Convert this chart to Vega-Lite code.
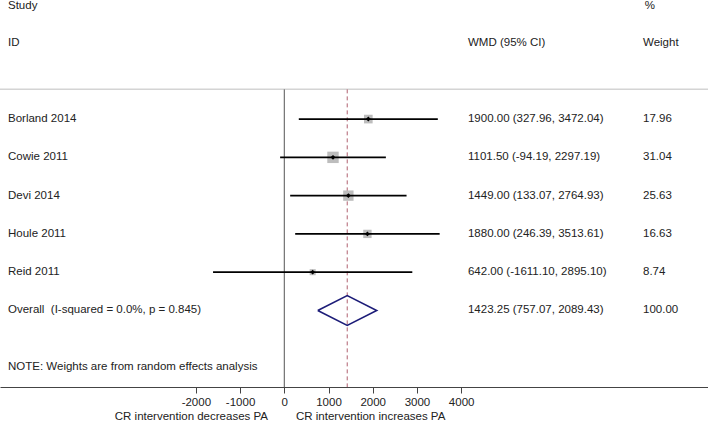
{
  "$schema": "https://vega.github.io/schema/vega-lite/v6.json",
  "width": 708,
  "height": 387,
  "autosize": {"type": "none"},
  "padding": {"left": 0, "right": 0, "top": 0, "bottom": 35},
  "background": "white",
  "config": {
    "font": "Liberation Sans",
    "view": {"stroke": null},
    "text": {"font": "Liberation Sans", "fontSize": 11.5, "color": "#222"},
    "axis": {"labelFont": "Liberation Sans", "grid": false}
  },
  "datasets": {
    "studies": [
      {"study": "Borland 2014", "order": 1, "wmd": 1900.00, "lo": 327.96, "hi": 3472.04, "weight": 17.96, "ci": "1900.00 (327.96, 3472.04)", "wt": "17.96"},
      {"study": "Cowie 2011", "order": 2, "wmd": 1101.50, "lo": -94.19, "hi": 2297.19, "weight": 31.04, "ci": "1101.50 (-94.19, 2297.19)", "wt": "31.04"},
      {"study": "Devi 2014", "order": 3, "wmd": 1449.00, "lo": 133.07, "hi": 2764.93, "weight": 25.63, "ci": "1449.00 (133.07, 2764.93)", "wt": "25.63"},
      {"study": "Houle 2011", "order": 4, "wmd": 1880.00, "lo": 246.39, "hi": 3513.61, "weight": 16.63, "ci": "1880.00 (246.39, 3513.61)", "wt": "16.63"},
      {"study": "Reid 2011", "order": 5, "wmd": 642.00, "lo": -1611.10, "hi": 2895.10, "weight": 8.74, "ci": "642.00 (-1611.10, 2895.10)", "wt": "8.74"},
      {"study": "Overall \u00a0(I-squared = 0.0%, p = 0.845)", "order": 6, "wmd": 1423.25, "lo": 757.07, "hi": 2089.43, "weight": 100, "ci": "1423.25 (757.07, 2089.43)", "wt": "100.00"}
    ],
    "diamond": [
      {"v": 0, "x": 757.07, "y": 6},
      {"v": 1, "x": 1423.25, "y": 5.61},
      {"v": 2, "x": 2089.43, "y": 6},
      {"v": 3, "x": 1423.25, "y": 6.39},
      {"v": 4, "x": 757.07, "y": 6}
    ],
    "overall": [{"wmd": 1423.25}],
    "one": [{}]
  },
  "data": {"name": "studies"},
  "encoding": {
    "x": {
      "type": "quantitative",
      "scale": {"domain": [-6429, 9582], "nice": false, "zero": false},
      "axis": {
        "values": [-2000, -1000, 0, 1000, 2000, 3000, 4000],
        "title": null,
        "domainColor": "#444",
        "tickColor": "#444",
        "tickSize": 6,
        "labelPadding": 3,
        "labelFontSize": 11.5,
        "labelColor": "#222",
        "labelFlush": false,
        "labelExpr": "datum.value < 0 ? '-' + format(-datum.value, 'd') : format(datum.value, 'd')"
      }
    }
  },
  "layer": [
    {
      "data": {"name": "one"},
      "mark": {"type": "rule", "color": "#d4d4d4", "strokeWidth": 1.5},
      "encoding": {
        "x": {"datum": -6429, "type": "quantitative"},
        "x2": {"datum": 9582},
        "y": {"datum": 0.224, "type": "quantitative", "scale": {"domain": [8.0, -2.111], "nice": false, "zero": false}, "axis": null}
      }
    },
    {
      "data": {"name": "one"},
      "mark": {"type": "rule", "color": "#555", "strokeWidth": 1},
      "encoding": {
        "x": {"datum": 0, "type": "quantitative"},
        "y": {"datum": 0.224, "type": "quantitative"},
        "y2": {"datum": 8.0}
      }
    },
    {
      "data": {"name": "overall"},
      "mark": {"type": "rule", "color": "#b06070", "strokeWidth": 1, "strokeDash": [4, 3]},
      "encoding": {
        "x": {"field": "wmd", "type": "quantitative"},
        "y": {"datum": 0.224, "type": "quantitative"},
        "y2": {"datum": 8.0}
      }
    },
    {
      "transform": [{"filter": "datum.order <= 5"}],
      "mark": {"type": "point", "shape": "square", "filled": true, "color": "#bdbdbd", "opacity": 1},
      "encoding": {
        "x": {"field": "wmd", "type": "quantitative"},
        "y": {"field": "order", "type": "quantitative"},
        "size": {"field": "weight", "type": "quantitative", "scale": {"domain": [0, 31.04], "range": [0, 130]}, "legend": null}
      }
    },
    {
      "transform": [{"filter": "datum.order <= 5"}],
      "mark": {"type": "rule", "color": "#000", "strokeWidth": 1.8},
      "encoding": {
        "x": {"field": "lo", "type": "quantitative"},
        "x2": {"field": "hi"},
        "y": {"field": "order", "type": "quantitative"}
      }
    },
    {
      "transform": [{"filter": "datum.order <= 5"}],
      "mark": {"type": "point", "shape": "diamond", "filled": true, "color": "#000", "size": 24, "opacity": 1},
      "encoding": {
        "x": {"field": "wmd", "type": "quantitative"},
        "y": {"field": "order", "type": "quantitative"}
      }
    },
    {
      "data": {"name": "diamond"},
      "mark": {"type": "line", "color": "#1c1c78", "strokeWidth": 1.6},
      "encoding": {
        "x": {"field": "x", "type": "quantitative"},
        "y": {"field": "y", "type": "quantitative"},
        "order": {"field": "v"}
      }
    },
    {
      "mark": {"type": "text", "align": "left", "baseline": "middle"},
      "encoding": {
        "x": {"datum": -6248, "type": "quantitative"},
        "y": {"field": "order", "type": "quantitative"},
        "text": {"field": "study"}
      }
    },
    {
      "mark": {"type": "text", "align": "left", "baseline": "middle"},
      "encoding": {
        "x": {"datum": 4154, "type": "quantitative"},
        "y": {"field": "order", "type": "quantitative"},
        "text": {"field": "ci"}
      }
    },
    {
      "mark": {"type": "text", "align": "left", "baseline": "middle"},
      "encoding": {
        "x": {"datum": 8112, "type": "quantitative"},
        "y": {"field": "order", "type": "quantitative"},
        "text": {"field": "wt"}
      }
    },
    {
      "data": {"name": "one"},
      "mark": {"type": "text", "align": "left", "baseline": "middle"},
      "encoding": {
        "x": {"datum": -6248, "type": "quantitative"},
        "y": {"datum": 7.48, "type": "quantitative"},
        "text": {"value": "NOTE: Weights are from random effects analysis"}
      }
    },
    {
      "data": {"name": "one"},
      "mark": {"type": "text", "align": "left", "baseline": "middle"},
      "encoding": {
        "x": {"datum": -6248, "type": "quantitative"},
        "y": {"datum": -1.95, "type": "quantitative"},
        "text": {"value": "Study"}
      }
    },
    {
      "data": {"name": "one"},
      "mark": {"type": "text", "align": "left", "baseline": "middle"},
      "encoding": {
        "x": {"datum": -6248, "type": "quantitative"},
        "y": {"datum": -0.99, "type": "quantitative"},
        "text": {"value": "ID"}
      }
    },
    {
      "data": {"name": "one"},
      "mark": {"type": "text", "align": "left", "baseline": "middle"},
      "encoding": {
        "x": {"datum": 4154, "type": "quantitative"},
        "y": {"datum": -0.99, "type": "quantitative"},
        "text": {"value": "WMD (95% CI)"}
      }
    },
    {
      "data": {"name": "one"},
      "mark": {"type": "text", "align": "left", "baseline": "middle"},
      "encoding": {
        "x": {"datum": 8150, "type": "quantitative"},
        "y": {"datum": -1.95, "type": "quantitative"},
        "text": {"value": "%"}
      }
    },
    {
      "data": {"name": "one"},
      "mark": {"type": "text", "align": "left", "baseline": "middle"},
      "encoding": {
        "x": {"datum": 8112, "type": "quantitative"},
        "y": {"datum": -0.99, "type": "quantitative"},
        "text": {"value": "Weight"}
      }
    },
    {
      "data": {"name": "one"},
      "mark": {"type": "text", "align": "right", "baseline": "middle"},
      "encoding": {
        "x": {"datum": -369, "type": "quantitative"},
        "y": {"datum": 8.78, "type": "quantitative"},
        "text": {"value": "CR intervention decreases PA"}
      }
    },
    {
      "data": {"name": "one"},
      "mark": {"type": "text", "align": "left", "baseline": "middle"},
      "encoding": {
        "x": {"datum": 265, "type": "quantitative"},
        "y": {"datum": 8.78, "type": "quantitative"},
        "text": {"value": "CR intervention increases PA"}
      }
    }
  ]
}
